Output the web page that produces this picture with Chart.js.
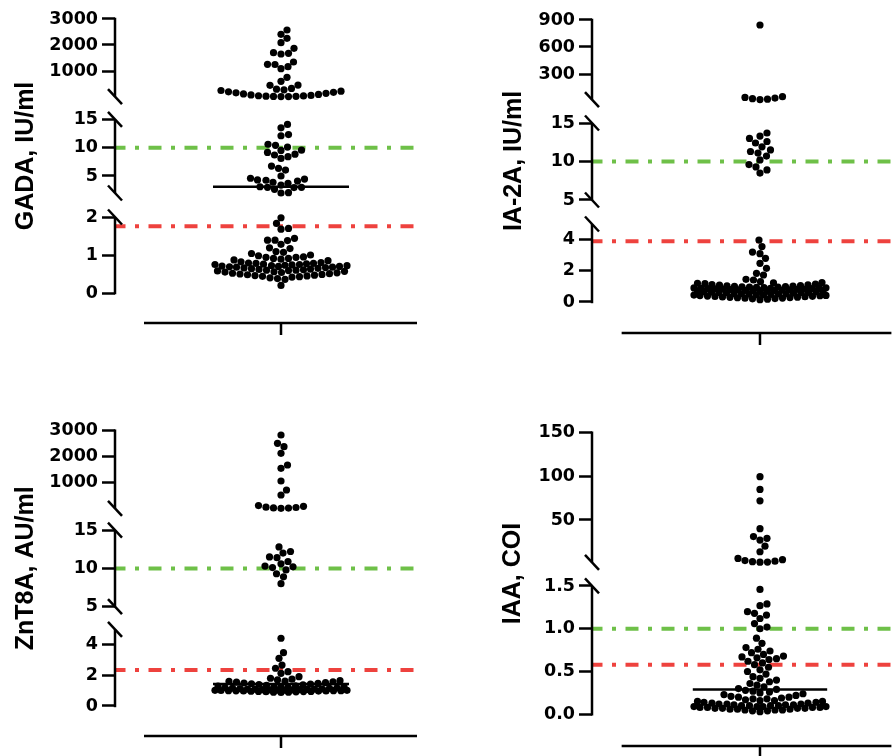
<!DOCTYPE html>
<html>
<head>
<meta charset="utf-8">
<script src="https://cdn.jsdelivr.net/npm/chart.js@4.4.1/dist/chart.umd.min.js"></script>
<style>
  body { margin: 0; background: #fff; overflow: hidden; width: 895px; height: 756px; position: relative; }
  canvas { position: absolute; }
</style>
</head>
<body>
<canvas id="gada" width="447" height="378" style="left:0;top:0"></canvas>
<canvas id="ia2a" width="448" height="378" style="left:447px;top:0"></canvas>
<canvas id="znt8" width="447" height="378" style="left:0;top:378px"></canvas>
<canvas id="iaa" width="448" height="378" style="left:447px;top:378px"></canvas>
<script>
// values, one array per axis segment

// GADA, IU/ml
const gadaHigh = [2577, 2411, 2257, 2088, 1873, 1704, 1680, 1654, 1346, 1257, 1250, 1166, 1089, 757, 603, 460, 450,
    330, 300, 275, 250, 225, 200, 180, 160, 140, 120, 100, 80, 60, 48, 40, 33, 27, 22, 18, 16];
const gadaMid = [14.1, 13.5, 12.3, 12.1, 10.6, 10.4, 10.1, 9.55, 9.5, 9.15, 8.85, 8.7, 8.4, 8.1, 6.75, 6.35, 6.05,
    5.0, 4.6, 4.45, 4.3, 4.25, 4.1, 3.9, 3.7, 3.4, 3.1, 3.0, 3.0, 2.95, 2.65, 2.05, 2.0];
const gadaLow = [1.98, 1.83, 1.7, 1.68, 1.44, 1.39, 1.39, 1.38, 1.28, 1.19, 1.17, 1.09, 1.07, 1.04, 1.0, 0.98, 0.95,
    0.94, 0.94, 0.91, 0.91, 0.89, 0.87, 0.85, 0.82, 0.8, 0.79, 0.78, 0.78, 0.77, 0.76, 0.75, 0.75, 0.74, 0.73, 0.72,
    0.72, 0.71, 0.7, 0.7, 0.69, 0.68, 0.68, 0.67, 0.66, 0.65, 0.64, 0.63, 0.62, 0.61, 0.6, 0.6, 0.59, 0.58, 0.57,
    0.56, 0.55, 0.54, 0.53, 0.52, 0.51, 0.5, 0.49, 0.48, 0.47, 0.46, 0.45, 0.44, 0.43, 0.42, 0.4, 0.38, 0.36, 0.2];
const gadaTicksHigh = [1000, 2000, 3000];
const gadaTicksMid = [5, 10, 15];
const gadaTicksLow = [0, 1, 2];
const gadaMedian = 3.1;
const gadaUpper = 10;
const gadaLower = 1.76;

// IA-2A, IU/ml
const ia2aHigh = [844, 48, 40, 33, 26, 20, 16];
const ia2aMid = [13.7, 13.3, 13.0, 12.6, 12.4, 11.9, 11.5, 11.3, 11.1, 10.7, 10.2, 9.6, 9.3, 8.9, 8.5];
const ia2aLow = [3.97, 3.55, 3.2, 3.1, 2.8, 2.48, 2.16, 1.84, 1.73, 1.45, 1.41, 1.3, 1.25, 1.22, 1.2, 1.18, 1.15,
    1.12, 1.1, 1.08, 1.05, 1.04, 1.02, 1.0, 0.98, 0.97, 0.96, 0.95, 0.93, 0.92, 0.91, 0.9, 0.89, 0.88, 0.87, 0.86,
    0.85, 0.84, 0.83, 0.82, 0.81, 0.8, 0.78, 0.77, 0.76, 0.75, 0.73, 0.72, 0.71, 0.7, 0.68, 0.67, 0.66, 0.65, 0.63,
    0.62, 0.61, 0.6, 0.58, 0.56, 0.55, 0.54, 0.52, 0.51, 0.5, 0.48, 0.46, 0.45, 0.44, 0.42, 0.41, 0.4, 0.38, 0.36,
    0.35, 0.34, 0.32, 0.31, 0.3, 0.28, 0.27, 0.25, 0.24, 0.22, 0.2, 0.18, 0.15];
const ia2aTicksHigh = [300, 600, 900];
const ia2aTicksMid = [5, 10, 15];
const ia2aTicksLow = [0, 2, 4];
const ia2aMedian = 0.86;
const ia2aUpper = 10;
const ia2aLower = 3.9;

// ZnT8A, AU/ml
const znt8High = [2835, 2515, 2385, 2131, 1681, 1554, 1065, 719, 527, 120, 90, 60, 45, 30, 22, 16];
const znt8Mid = [12.8, 12.2, 12.0, 11.5, 11.4, 10.9, 10.6, 10.3, 10.2, 10.1, 9.8, 9.3, 8.9, 8.0];
const znt8Low = [4.42, 3.48, 3.11, 2.67, 2.46, 2.24, 2.13, 1.91, 1.81, 1.75, 1.7, 1.65, 1.62, 1.6, 1.58, 1.55, 1.52,
    1.5, 1.47, 1.45, 1.42, 1.4, 1.37, 1.35, 1.32, 1.3, 1.27, 1.25, 1.24, 1.22, 1.2, 1.18, 1.16, 1.15, 1.13, 1.12, 1.1,
    1.1, 1.09, 1.08, 1.07, 1.06, 1.05, 1.05, 1.04, 1.03, 1.02, 1.02, 1.01, 1.0, 1.0, 1.0, 0.99, 0.98, 0.98, 0.97,
    0.96, 0.95, 0.95, 0.94, 0.93, 0.92, 0.9, 0.9, 0.88];
const znt8TicksHigh = [1000, 2000, 3000];
const znt8TicksMid = [5, 10, 15];
const znt8TicksLow = [0, 2, 4];
const znt8Median = 1.43;
const znt8Upper = 10;
const znt8Lower = 2.35;

// IAA, COI
const iaaHigh = [99.6, 85, 72, 40, 31, 29, 27, 20, 13.6, 6, 4.5, 3.5, 2.8, 2.2, 1.8, 1.6];
const iaaLow = [1.46, 1.29, 1.27, 1.2, 1.18, 1.16, 1.12, 1.06, 1.02, 1.0, 0.89, 0.83, 0.78, 0.76, 0.74, 0.72, 0.7,
    0.68, 0.67, 0.66, 0.65, 0.64, 0.62, 0.6, 0.58, 0.55, 0.52, 0.5, 0.47, 0.44, 0.42, 0.4, 0.38, 0.36, 0.34, 0.32,
    0.3, 0.29, 0.28, 0.27, 0.26, 0.25, 0.24, 0.23, 0.22, 0.21, 0.2, 0.2, 0.19, 0.18, 0.18, 0.17, 0.16, 0.16, 0.15,
    0.15, 0.14, 0.14, 0.13, 0.13, 0.12, 0.12, 0.12, 0.11, 0.11, 0.11, 0.1, 0.1, 0.1, 0.1, 0.09, 0.09, 0.09, 0.09,
    0.08, 0.08, 0.08, 0.08, 0.07, 0.07, 0.07, 0.07, 0.06, 0.06, 0.06, 0.05, 0.05, 0.05, 0.04, 0.04, 0.03];
const iaaTicksHigh = [50, 100, 150];
const iaaTicksLow = [0, 0.5, 1.0, 1.5];
const iaaMedian = 0.29;
const iaaUpper = 1.0;
const iaaLower = 0.58;


const GREEN = 'rgb(110, 192, 72)';
const RED = 'rgb(238, 66, 62)';
const tickFont = { family: '"DejaVu Sans", sans-serif', size: 17.5, weight: 'bold' };
const labelFont = 'bold 25px "Liberation Sans", Arial, sans-serif';
const DOT = 3.6;


// beeswarm: spread points sideways so they don't sit on top of each other
function swarm(chart, maxHalf) {
    const xs = chart.scales.x;
    const cx = xs.getPixelForValue(0);
    const step = 0.5;
    const d = DOT * 2;
    chart.data.datasets.forEach(ds => {
        if (!ds.swarm) return;
        const ys = chart.scales[ds.yAxisID];
        const pts = ds.data.map(p => ({ p: p, y: ys.getPixelForValue(p.y), x: 0 }));
        pts.sort((a, b) => b.y - a.y);
        const placed = [];
        for (const q of pts) {
            let best = 0, bestScore = -1;
            for (let k = 0; k <= 2 * maxHalf / step; k++) {
                const off = (k % 2 ? 1 : -1) * Math.ceil(k / 2) * step;
                let mind = Infinity;
                for (const o of placed) {
                    const dd = Math.hypot(o.x - off, o.y - q.y);
                    if (dd < mind) mind = dd;
                }
                if (mind >= d) { best = off; break; }
                if (mind > bestScore) { bestScore = mind; best = off; }
            }
            q.x = best;
            placed.push(q);
            q.p.x = xs.getValueForPixel(cx + best);
        }
    });
}


function brokenAxis(p) {
    return {
        id: 'brokenAxis',
        afterDraw(chart) {
            const ctx = chart.ctx;
            const ca = chart.chartArea;
            const x = ca.left;
            const n = p.segments.length;
            ctx.save();
            ctx.strokeStyle = '#000';
            ctx.lineWidth = 2.5;
            const line = (x1, y1, x2, y2) => {
                ctx.beginPath(); ctx.moveTo(x1, y1); ctx.lineTo(x2, y2); ctx.stroke();
            };
            const slash = (yy) => line(x - 7, yy - 7.5, x + 7, yy + 7.5);

            p.segments.forEach((s, i) => {
                const ys = chart.scales[s.id];
                const yTop = ys.getPixelForValue(s.range[1]);
                const yBot = ys.getPixelForValue(s.range[0]);
                line(x, yTop - (i === 0 ? 1.25 : 0), x, yBot + (i === n - 1 ? 1.25 : 0));
                if (i > 0) slash(yTop);
                if (i < n - 1) slash(yBot);
            });

            // offset x axis with single centred tick
            const xs = chart.scales.x;
            const yb = ca.bottom;
            line(xs.getPixelForValue(p.xAxisStart), yb, ca.right, yb);
            const xc = xs.getPixelForValue(0);
            line(xc, yb, xc, yb + 12);

            // y title
            const top = chart.scales[p.segments[0].id].getPixelForValue(p.segments[0].range[1]);
            const last = p.segments[n - 1];
            const bot = chart.scales[last.id].getPixelForValue(last.range[0]);
            ctx.translate(p.labelX, (top + bot) / 2);
            ctx.rotate(-Math.PI / 2);
            ctx.font = labelFont;
            ctx.fillStyle = '#000';
            ctx.textAlign = 'center';
            ctx.textBaseline = 'alphabetic';
            ctx.fillText(p.label, 0, 0);
            ctx.restore();
        }
    };
}


function makePanel(canvasId, p) {
    const scales = {
        x: { type: 'linear', display: false, min: p.xMin, max: p.xMax }
    };
    p.segments.forEach((s, i) => {
        const fmt = s.fmt || (v => String(v));
        scales[s.id] = {
            type: 'linear',
            position: 'left',
            stack: canvasId,
            stackWeight: s.weight,
            weight: p.segments.length - i,
            min: s.min,
            max: s.max,
            border: { display: false },
            grid: { drawOnChartArea: false, drawTicks: true, tickLength: 13, tickWidth: 2.5, tickColor: '#000' },
            ticks: { color: '#000', font: tickFont, padding: 4, callback: v => fmt(v) },
            afterBuildTicks: sc => { sc.ticks = s.ticks.map(v => ({ value: v })); },
            afterFit: sc => { sc.width = p.axisWidth; sc.paddingTop = 0; sc.paddingBottom = 0; }
        };
    });

    const datasets = [];
    p.segments.forEach(s => {
        datasets.push({
            type: 'scatter',
            data: s.values.map(v => ({ x: 0, y: v })),
            yAxisID: s.id,
            swarm: true,
            pointRadius: DOT,
            pointHoverRadius: DOT,
            pointBackgroundColor: '#000',
            pointBorderWidth: 0,
            order: 1
        });
    });
    p.cutoffs.forEach(c => {
        datasets.push({
            type: 'line',
            data: [{ x: p.xMin, y: c.value }, { x: p.xMax, y: c.value }],
            yAxisID: c.axis,
            borderColor: c.color,
            borderWidth: 4,
            borderDash: [13, 9.5, 4, 9.5],
            borderDashOffset: 2.5,
            pointRadius: 0,
            order: 2
        });
    });
    datasets.push({
        type: 'line',
        data: [{ x: -68, y: p.median }, { x: 68, y: p.median }],
        yAxisID: p.medianAxis,
        borderColor: '#000',
        borderWidth: 2.5,
        pointRadius: 0,
        order: 0
    });

    const chart = new Chart(document.getElementById(canvasId), {
        type: 'scatter',
        data: { datasets: datasets },
        options: {
            responsive: false,
            animation: false,
            events: [],
            layout: { padding: p.padding },
            scales: scales,
            plugins: { legend: { display: false }, tooltip: { enabled: false } }
        },
        plugins: [brokenAxis(p)]
    });
    swarm(chart, 66);
    chart.update('none');
    return chart;
}


const oneDecimal = v => v.toFixed(1);

makePanel('gada', {
    label: 'GADA, IU/ml', labelX: 33, axisWidth: 115, xMin: -166, xMax: 136, xAxisStart: -137,
    padding: { top: 8, bottom: 55, left: 0, right: 30 },
    segments: [
        { id: 'yHigh', values: gadaHigh, ticks: gadaTicksHigh, range: [15, 3000], min: -423, max: 3423, weight: 100 },
        { id: 'yMid', values: gadaMid, ticks: gadaTicksMid, range: [2, 15], min: -0.116, max: 16.99, weight: 97 },
        { id: 'yLow', values: gadaLow, ticks: gadaTicksLow, range: [0, 2], min: -0.789, max: 2.316, weight: 118 }
    ],
    cutoffs: [{ value: gadaUpper, axis: 'yMid', color: GREEN }, { value: gadaLower, axis: 'yLow', color: RED }],
    median: gadaMedian, medianAxis: 'yMid'
});

makePanel('ia2a', {
    label: 'IA-2A, IU/ml', labelX: 74, axisWidth: 145, xMin: -170, xMax: 133, xAxisStart: -140,
    padding: { top: 8, bottom: 45, left: 0, right: 0 },
    segments: [
        { id: 'yHigh', values: ia2aHigh, ticks: ia2aTicksHigh, range: [15, 900], min: -122, max: 1033, weight: 104 },
        { id: 'yMid', values: ia2aMid, ticks: ia2aTicksMid, range: [5, 15], min: 3.44, max: 16.43, weight: 100 },
        { id: 'yLow', values: ia2aLow, ticks: ia2aTicksLow, range: [0, 5], min: -1.99, max: 5.77, weight: 121 }
    ],
    cutoffs: [{ value: ia2aUpper, axis: 'yMid', color: GREEN }, { value: ia2aLower, axis: 'yLow', color: RED }],
    median: ia2aMedian, medianAxis: 'yLow'
});

makePanel('znt8', {
    label: 'ZnT8A, AU/ml', labelX: 33, axisWidth: 115, xMin: -166, xMax: 136, xAxisStart: -137,
    padding: { top: 44, bottom: 20, left: 0, right: 30 },
    segments: [
        { id: 'yHigh', values: znt8High, ticks: znt8TicksHigh, range: [15, 3000], min: -408, max: 3335, weight: 97.3 },
        { id: 'yMid', values: znt8Mid, ticks: znt8TicksMid, range: [5, 15], min: 3.53, max: 16.4, weight: 98.7 },
        { id: 'yLow', values: znt8Low, ticks: znt8TicksLow, range: [0, 5], min: -1.96, max: 5.74, weight: 118 }
    ],
    cutoffs: [{ value: znt8Upper, axis: 'yMid', color: GREEN }, { value: znt8Lower, axis: 'yLow', color: RED }],
    median: znt8Median, medianAxis: 'yLow'
});

makePanel('iaa', {
    label: 'IAA, COI', labelX: 73, axisWidth: 145, xMin: -170, xMax: 133, xAxisStart: -140,
    padding: { top: 44, bottom: 10, left: 0, right: 0 },
    segments: [
        { id: 'yHigh', values: iaaHigh, ticks: iaaTicksHigh, range: [1.5, 150], min: -11.9, max: 162.3, weight: 152 },
        { id: 'yLow', values: iaaLow, ticks: iaaTicksLow, range: [0, 1.5], min: -0.371, max: 1.64, weight: 172, fmt: oneDecimal }
    ],
    cutoffs: [{ value: iaaUpper, axis: 'yLow', color: GREEN }, { value: iaaLower, axis: 'yLow', color: RED }],
    median: iaaMedian, medianAxis: 'yLow'
});
</script>
</body>
</html>
